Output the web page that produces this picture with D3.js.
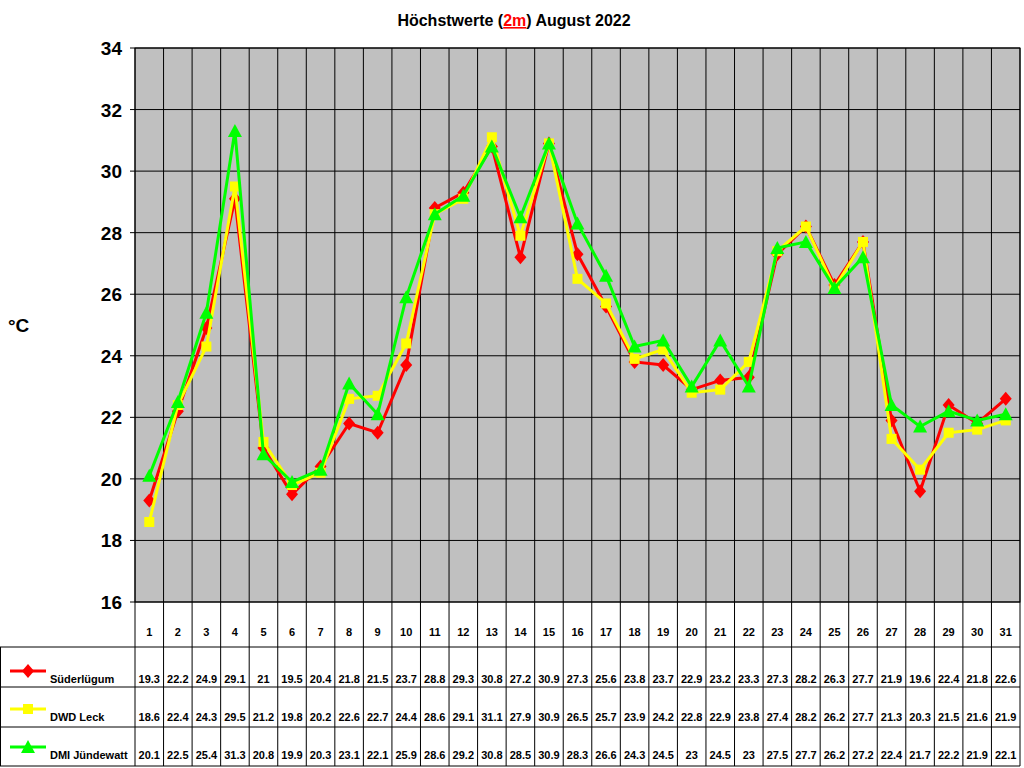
<!DOCTYPE html>
<html><head><meta charset="utf-8">
<script src="https://cdn.jsdelivr.net/npm/d3@7"></script>
<style>body{margin:0;background:#fff;font-family:Arial,"Liberation Sans",sans-serif;}</style>
</head><body>
<script>
// chart data
var days = d3.range(1, 32);
var seriesNames = ["Süderlügum", "DWD Leck", "DMI Jündewatt"];
var seriesColors = ["#ff0000", "#ffff00", "#00ff00"];
var suederluegum = [19.3,22.2,24.9,29.1,21,19.5,20.4,21.8,21.5,23.7,28.8,29.3,30.8,27.2,30.9,27.3,25.6,23.8,23.7,22.9,23.2,23.3,27.3,28.2,26.3,27.7,21.9,19.6,22.4,21.8,22.6];
var dwdLeck = [18.6,22.4,24.3,29.5,21.2,19.8,20.2,22.6,22.7,24.4,28.6,29.1,31.1,27.9,30.9,26.5,25.7,23.9,24.2,22.8,22.9,23.8,27.4,28.2,26.2,27.7,21.3,20.3,21.5,21.6,21.9];
var dmiJuendewatt = [20.1,22.5,25.4,31.3,20.8,19.9,20.3,23.1,22.1,25.9,28.6,29.2,30.8,28.5,30.9,28.3,26.6,24.3,24.5,23,24.5,23,27.5,27.7,26.2,27.2,22.4,21.7,22.2,21.9,22.1];
var yTicks = [16,18,20,22,24,26,28,30,32,34];
var allSeries = [suederluegum, dwdLeck, dmiJuendewatt];

(function(){
var plotLeft = 135, plotRight = 1020, plotTop = 48, plotBottom = 602;
var svg = d3.select("body").append("svg").attr("width", 1024).attr("height", 768);

var x = d3.scaleBand().domain(days).range([plotLeft, plotRight]);
var y = d3.scaleLinear().domain([16, 34]).range([plotBottom, plotTop]);

// plot background
svg.append("rect").attr("x", plotLeft).attr("y", plotTop).attr("width", plotRight - plotLeft).attr("height", plotBottom - plotTop)
    .attr("fill", "#c0c0c0").attr("stroke", "#000");

// horizontal grid
svg.selectAll(".hg").data(yTicks).enter().append("line")
    .attr("x1", plotLeft - 5).attr("x2", plotRight).attr("y1", d => y(d)).attr("y2", d => y(d))
    .attr("stroke", "#000").attr("stroke-width", 1);

// vertical grid through plot and table
svg.selectAll(".vg").data(days.concat([32])).enter().append("line")
    .attr("x1", d => d > 31 ? plotRight : x(d)).attr("x2", d => d > 31 ? plotRight : x(d))
    .attr("y1", plotTop).attr("y2", 766).attr("stroke", "#000");

// table horizontal lines
[647, 687, 727, 766].forEach(function(yy){
    svg.append("line").attr("x1", 0).attr("x2", plotRight).attr("y1", yy).attr("y2", yy).attr("stroke", "#000");
});
svg.append("line").attr("x1", 0.5).attr("x2", 0.5).attr("y1", 647).attr("y2", 766).attr("stroke", "#000");

// y labels
svg.selectAll(".yl").data(yTicks).enter().append("text")
    .attr("x", 122).attr("y", d => y(d) + 7).attr("text-anchor", "end")
    .attr("font-size", 19).attr("font-weight", "bold").text(d => d);
svg.append("text").attr("x", 8).attr("y", 332).attr("font-size", 19).attr("font-weight", "bold").text("°C");

// title
var title = svg.append("text").attr("x", 514).attr("y", 26).attr("text-anchor", "middle")
    .attr("font-size", 16).attr("font-weight", "bold");
title.append("tspan").text("Höchstwerte (");
title.append("tspan").attr("fill", "#ff0000").attr("text-decoration", "underline").text("2m");
title.append("tspan").text(") August 2022");

// day numbers
svg.selectAll(".dn").data(days).enter().append("text")
    .attr("x", d => x(d) + x.bandwidth() / 2).attr("y", 636).attr("text-anchor", "middle")
    .attr("font-size", 11).attr("font-weight", "bold").text(d => d);

var line = d3.line().x((d, i) => x(days[i]) + x.bandwidth() / 2).y(d => y(d));
var rowY = [683, 721, 759];

function marker(g, k, c){
    if (k === 0) g.append("path").attr("d", "M0,-7L6,0L0,7L-6,0Z").attr("fill", c);
    else if (k === 1) g.append("rect").attr("x", -5).attr("y", -5).attr("width", 10).attr("height", 10).attr("fill", c);
    else g.append("path").attr("d", "M0,-7L7,6L-7,6Z").attr("fill", c);
}

allSeries.forEach(function(vals, k){
    var c = seriesColors[k];
    svg.append("path").datum(vals).attr("d", line).attr("fill", "none").attr("stroke", c).attr("stroke-width", 3);
    vals.forEach(function(v, i){
        marker(svg.append("g").attr("transform", "translate(" + (x(days[i]) + x.bandwidth() / 2) + "," + y(v) + ")"), k, c);
    });
    // table row
    svg.selectAll(".tv" + k).data(vals).enter().append("text")
        .attr("x", (d, i) => x(days[i]) + x.bandwidth() / 2).attr("y", rowY[k]).attr("text-anchor", "middle")
        .attr("font-size", 11).attr("font-weight", "bold").text(d => d);
    // legend
    var ly = rowY[k] - 12;
    svg.append("line").attr("x1", 10).attr("x2", 46).attr("y1", ly).attr("y2", ly).attr("stroke", c).attr("stroke-width", 3);
    marker(svg.append("g").attr("transform", "translate(28," + ly + ")"), k, c);
    svg.append("text").attr("x", 50).attr("y", rowY[k]).attr("font-size", 11).attr("font-weight", "bold").text(seriesNames[k]);
});
})();
</script>
</body></html>
